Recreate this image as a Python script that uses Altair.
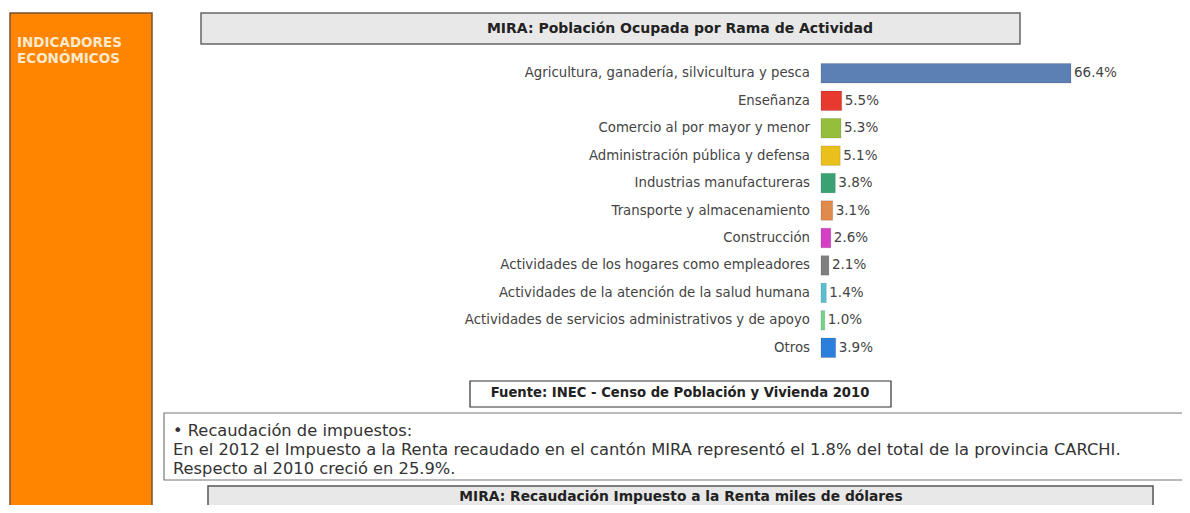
import altair as alt
import pandas as pd

# ---- data ----
categories = [
    "Agricultura, ganadería, silvicultura y pesca",
    "Enseñanza",
    "Comercio al por mayor y menor",
    "Administración pública y defensa",
    "Industrias manufactureras",
    "Transporte y almacenamiento",
    "Construcción",
    "Actividades de los hogares como empleadores",
    "Actividades de la atención de la salud humana",
    "Actividades de servicios administrativos y de apoyo",
    "Otros",
]
values = [66.4, 5.5, 5.3, 5.1, 3.8, 3.1, 2.6, 2.1, 1.4, 1.0, 3.9]
bar_colors = ["#5b80b4", "#e8392f", "#95bf3a", "#eac01c", "#3aa272", "#e08a4e",
              "#d43fc4", "#7f7f7f", "#5cbfd0", "#78d38a", "#2d7fdc"]

sidebar_lines = ["INDICADORES", "ECONÓMICOS"]
title_1 = "MIRA: Población Ocupada por Rama de Actividad"
source_text = "Fuente: INEC -  Censo de Población y Vivienda  2010"
body_lines = [
    "• Recaudación de impuestos:",
    "En el 2012 el Impuesto a la Renta recaudado en el cantón MIRA representó el 1.8% del total de la provincia CARCHI.",
    "Respecto al 2010 creció en 25.9%.",
]
title_2 = "MIRA: Recaudación Impuesto a la Renta miles de dólares"

df = pd.DataFrame({
    "cat": categories,
    "val": values,
    "lbl": [f"{v:.1f}%" for v in values],
    "col": bar_colors,
})
one = pd.DataFrame({"k": [0]})

FONT = "DejaVu Sans"

ysc = alt.Scale(domain=categories, range=[51.6, 353.5], paddingInner=0.29, paddingOuter=0.145)
xsc = alt.Scale(domain=[0, 66.4], range=[813, 1063], nice=False, zero=True)


def box(x1, x2, y1, y2, fill, stroke, sw=1.5):
    return alt.Chart(one).mark_rect(fill=fill, stroke=stroke, strokeWidth=sw).encode(
        x=alt.value(x1), x2=alt.value(x2), y=alt.value(y1), y2=alt.value(y2))


def label(txt, x, y, size, weight="normal", color="#333333", align="center", baseline="middle", lh=None):
    kw = dict(font=FONT, fontSize=size, fontWeight=weight, color=color, align=align, baseline=baseline)
    if lh:
        kw["lineHeight"] = lh
    return alt.Chart(one).mark_text(**kw).encode(
        x=alt.value(x), y=alt.value(y), text=alt.value(txt))


sidebar = box(2, 144, 5, 530, "#ff8400", "#7a5030", 1.5)
side_txt = label(sidebar_lines, 9, 39, 13.5, "bold", "#fde9cc", "left", "alphabetic", 16)

tbox1 = box(193, 1012, 5, 36, "#e8e8e8", "#666666", 1.5)
t1 = label(title_1, 672, 21, 14, "bold", "#222222")

bars = alt.Chart(df).mark_bar(stroke="#00000033", strokeWidth=0.6).encode(
    y=alt.Y("cat:N", scale=ysc, axis=None, sort=None),
    x=alt.X("val:Q", scale=xsc, axis=None),
    color=alt.Color("col:N", scale=None, legend=None),
)
cat_txt = alt.Chart(df).mark_text(font=FONT, fontSize=13.3, color="#444444", align="right", baseline="middle").encode(
    y=alt.Y("cat:N", scale=ysc, axis=None, sort=None),
    x=alt.value(802),
    text="cat:N",
)
val_txt = alt.Chart(df).mark_text(font=FONT, fontSize=13.5, color="#444444", align="left", baseline="middle", dx=3).encode(
    y=alt.Y("cat:N", scale=ysc, axis=None, sort=None),
    x=alt.X("val:Q", scale=xsc, axis=None),
    text="lbl:N",
)

sbox = box(462, 883, 373, 399, "#ffffff", "#333333", 1.2)
stxt = label(source_text, 672, 385, 13.2, "bold", "#222222")

bbox = box(156, 1195, 405, 472, "#ffffff", "#777777", 1.2)
btxt = label(body_lines, 165, 428, 16.3, "normal", "#333333", "left", "alphabetic", 19)

tbox2 = box(200, 1145, 478, 530, "#e8e8e8", "#555555", 1.5)
t2 = label(title_2, 673, 489, 13.8, "bold", "#222222")

chart = alt.layer(
    sidebar, side_txt, tbox1, t1, bars, cat_txt, val_txt, sbox, stxt, bbox, btxt, tbox2, t2
).properties(
    width=1174, height=497, padding=0, background="#ffffff",
    autosize=alt.AutoSizeParams(type="none")
).configure_view(stroke=None)

chart.save("out.html", embed_options={"renderer": "svg", "actions": False})
